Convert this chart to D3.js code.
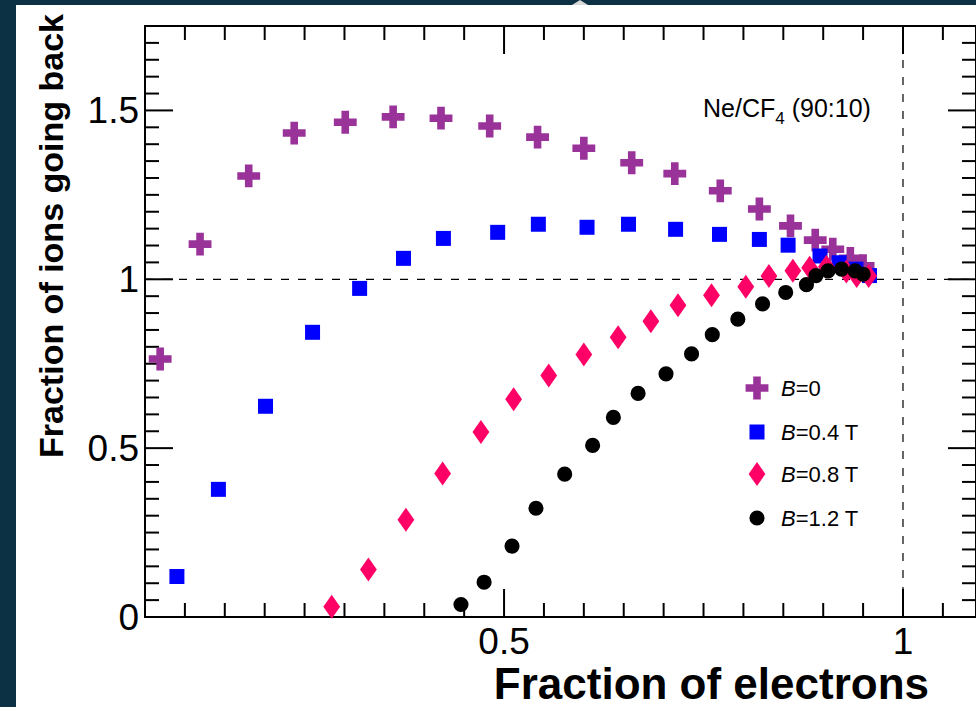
<!DOCTYPE html>
<html><head><meta charset="utf-8">
<script src="https://cdn.jsdelivr.net/npm/d3@7"></script>
<style>html,body{margin:0;padding:0;background:#0d3144;overflow:hidden}</style>
</head><body>
<svg id="c" width="976" height="707"></svg>
<script>
// ---- data ----
const seriesNames = ["B=0", "B=0.4 T", "B=0.8 T", "B=1.2 T"];
const legendLabels = [["B", "=0"], ["B", "=0.4 T"], ["B", "=0.8 T"], ["B", "=1.2 T"]];
const b0X = [0.069,0.119,0.180,0.237,0.301,0.361,0.421,0.482,0.542,0.600,0.660,0.714,0.771,0.820,0.859,0.890,0.912,0.934,0.950];
const b0Y = [0.764,1.104,1.306,1.433,1.465,1.481,1.477,1.454,1.421,1.388,1.345,1.313,1.262,1.208,1.158,1.116,1.089,1.062,1.040];
const b04X = [0.090,0.142,0.201,0.260,0.319,0.374,0.424,0.492,0.543,0.604,0.656,0.715,0.770,0.820,0.856,0.896,0.920,0.941,0.958];
const b04Y = [0.120,0.378,0.624,0.843,0.973,1.062,1.121,1.139,1.163,1.154,1.163,1.148,1.133,1.118,1.101,1.069,1.049,1.030,1.011];
const b08X = [0.284,0.330,0.377,0.423,0.471,0.512,0.556,0.600,0.643,0.684,0.718,0.760,0.803,0.832,0.862,0.883,0.904,0.929,0.942,0.957];
const b08Y = [0.030,0.141,0.288,0.425,0.548,0.645,0.715,0.777,0.828,0.876,0.923,0.953,0.978,1.010,1.025,1.034,1.037,1.023,1.010,1.010];
const b12X = [0.446,0.475,0.510,0.540,0.576,0.611,0.637,0.668,0.703,0.735,0.761,0.793,0.824,0.853,0.879,0.891,0.906,0.923,0.940,0.950];
const b12Y = [0.037,0.103,0.210,0.322,0.423,0.508,0.591,0.662,0.720,0.779,0.836,0.882,0.927,0.961,0.984,1.011,1.025,1.030,1.025,1.015];
const xTickLabels = ["0.5", "1"];
const yTickLabels = ["0", "0.5", "1", "1.5"];
const xTitle = "Fraction of electrons";
const yTitle = "Fraction of ions going back";
const annotation = ["Ne/CF", "4", " (90:10)"];

// ---- styles ----
const colors = ["#993399", "#0000ff", "#ff0066", "#000000"];
const FONT = "'Liberation Sans', Arial, Helvetica, sans-serif";

const svg = d3.select("#c");
// white panel
svg.append("rect").attr("x", 16).attr("y", 5).attr("width", 976).attr("height", 720).attr("fill", "#fff");
// small top artifact
svg.append("path").attr("d", "M572,5 L580,0 L588,5 Z").attr("fill", "#d8d8d8");

const x = d3.scaleLinear().domain([0.05, 1.0915]).range([145, 976]);
const y = d3.scaleLinear().domain([0, 1.75]).range([617, 26]);

const g = svg.append("g");
// frame
g.append("rect").attr("x", x(0.05)).attr("y", y(1.75))
  .attr("width", x(1.0915) - x(0.05)).attr("height", y(0) - y(1.75))
  .attr("fill", "none").attr("stroke", "#000").attr("stroke-width", 2);

// ticks
const xMinor = d3.range(0.10, 1.0901, 0.05).map(v => +v.toFixed(2));
const yMinor = d3.range(0.05, 1.7501, 0.05).map(v => +v.toFixed(2));
const isMajorX = v => Math.abs(v - 0.5) < 1e-6 || Math.abs(v - 1) < 1e-6;
const isMajorY = v => Math.abs((v / 0.5) - Math.round(v / 0.5)) < 1e-6;
const tk = g.append("g").attr("stroke", "#000").attr("stroke-width", 2);
xMinor.forEach(v => {
  const L = isMajorX(v) ? 28 : 14;
  tk.append("line").attr("x1", x(v)).attr("x2", x(v)).attr("y1", y(0)).attr("y2", y(0) - L);
  tk.append("line").attr("x1", x(v)).attr("x2", x(v)).attr("y1", y(1.75)).attr("y2", y(1.75) + L);
});
[0].concat(yMinor).forEach(v => {
  const L = isMajorY(v) ? 28 : 14;
  tk.append("line").attr("y1", y(v)).attr("y2", y(v)).attr("x1", x(0.05)).attr("x2", x(0.05) + L);
  tk.append("line").attr("y1", y(v)).attr("y2", y(v)).attr("x1", x(1.0915)).attr("x2", x(1.0915) - L);
});

// tick labels
const xt = g.append("g").attr("font-family", FONT).attr("font-size", 37).attr("fill", "#000");
xTickLabels.forEach(t => xt.append("text").attr("x", x(+t)).attr("y", 654).attr("text-anchor", "middle").text(t));
const yt = g.append("g").attr("font-family", FONT).attr("font-size", 37).attr("fill", "#000");
yTickLabels.forEach(t => yt.append("text").attr("x", 139).attr("y", y(+t) + 13).attr("text-anchor", "end").text(t));

// dashed reference lines
g.append("line").attr("x1", x(0.05)).attr("x2", x(1.0915)).attr("y1", y(1)).attr("y2", y(1))
  .attr("stroke", "#000").attr("stroke-width", 1.2).attr("stroke-dasharray", "8,9");
g.append("line").attr("x1", x(1)).attr("x2", x(1)).attr("y1", y(1.75)).attr("y2", y(0))
  .attr("stroke", "#000").attr("stroke-width", 1.2).attr("stroke-dasharray", "8,9");

// axis titles
svg.append("text").attr("x", 929).attr("y", 699).attr("text-anchor", "end")
  .attr("font-family", FONT).attr("font-weight", "bold").attr("font-size", 44).text(xTitle);
svg.append("text").attr("transform", "translate(63,236) rotate(-90)").attr("text-anchor", "middle")
  .attr("font-family", FONT).attr("font-weight", "bold").attr("font-size", 34).text(yTitle);

// annotation
const an = svg.append("text").attr("x", 703).attr("y", 117).attr("font-family", FONT).attr("font-size", 25).attr("fill", "#000");
an.append("tspan").text(annotation[0]);
an.append("tspan").attr("dy", 7).attr("font-size", 17).text(annotation[1]);
an.append("tspan").attr("dy", -7).text(annotation[2]);

// marker shapes
const diamondShape = { draw(ctx, size) { const h = Math.sqrt(size / 0.7); const hw = h * 0.35; const hh = h * 0.5;
  ctx.moveTo(0, -hh); ctx.lineTo(hw, 0); ctx.lineTo(0, hh); ctx.lineTo(-hw, 0); ctx.closePath(); } };
const shapes = [d3.symbolCross, d3.symbolSquare, diamondShape, d3.symbolCircle];
const sizes = [290, 225, 24*24*0.7, 180];

const series = [[b0X, b0Y], [b04X, b04Y], [b08X, b08Y], [b12X, b12Y]];
series.forEach((s, i) => {
  const pts = s[0].map((xv, k) => [xv, s[1][k]]);
  g.append("g").selectAll("path").data(pts).join("path")
    .attr("transform", d => `translate(${x(d[0])},${y(d[1])})`)
    .attr("d", d3.symbol().type(shapes[i]).size(sizes[i]))
    .attr("fill", colors[i]);
});

// legend
const lg = svg.append("g");
const legendY = [388, 432, 474, 518];
seriesNames.forEach((n, i) => {
  lg.append("path").attr("transform", `translate(757,${legendY[i]})`)
    .attr("d", d3.symbol().type(shapes[i]).size(sizes[i])).attr("fill", colors[i]);
  const t = lg.append("text").attr("x", 781).attr("y", legendY[i] + 8)
    .attr("font-family", FONT).attr("font-size", 22).attr("fill", "#000");
  t.append("tspan").attr("font-style", "italic").text(legendLabels[i][0]);
  t.append("tspan").text(legendLabels[i][1]);
});
</script>
</body></html>
